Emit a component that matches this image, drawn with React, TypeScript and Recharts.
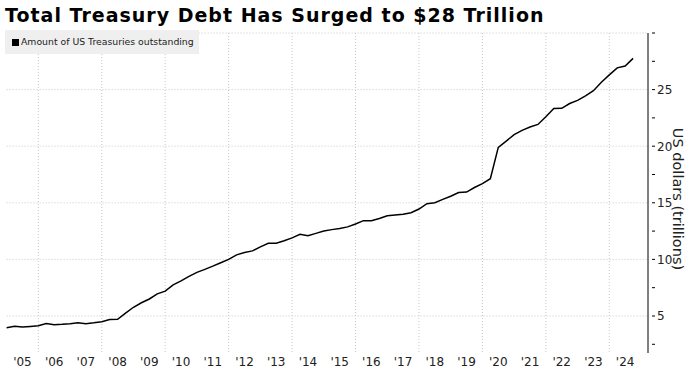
import React from 'react';
import { LineChart, Line, XAxis, YAxis, CartesianGrid } from 'recharts';

// Marketable US Treasuries outstanding, quarterly from 2005 Q1 (trillions of USD)
const startYear = 2005;
const debt = [
  3.97, 4.1, 4.03, 4.08, 4.14, 4.33, 4.23, 4.26, 4.32, 4.41,
  4.32, 4.4, 4.5, 4.68, 4.71, 5.25, 5.77, 6.17, 6.5, 6.95,
  7.2, 7.75, 8.1, 8.5, 8.85, 9.12, 9.4, 9.7, 10.0, 10.4,
  10.6, 10.75, 11.1, 11.42, 11.42, 11.65, 11.9, 12.22, 12.1, 12.3,
  12.5, 12.63, 12.72, 12.87, 13.13, 13.42, 13.42, 13.62, 13.85, 13.92,
  13.98, 14.12, 14.45, 14.92, 15.0, 15.3, 15.58, 15.9, 15.95, 16.35,
  16.7, 17.13, 19.9, 20.45, 21.02, 21.4, 21.7, 21.92, 22.6, 23.33,
  23.35, 23.77, 24.05, 24.45, 24.9, 25.65, 26.3, 26.92, 27.08, 27.76,
];

const yearTicks = [
  2005.5, 2006.5, 2007.5, 2008.5, 2009.5, 2010.5, 2011.5, 2012.5, 2013.5, 2014.5,
  2015.5, 2016.5, 2017.5, 2018.5, 2019.5, 2020.5, 2021.5, 2022.5, 2023.5, 2024.5,
];
const yearGrid = [2006, 2008, 2010, 2012, 2014, 2016, 2018, 2020, 2022, 2024];
const valueTicks = [2.5, 5, 7.5, 10, 12.5, 15, 17.5, 20, 22.5, 25, 27.5, 30];
const valueLabels = [5, 10, 15, 20, 25];
const valueGrid = [5, 10, 15, 20, 25, 30];

const data = debt.map((v, i) => ({ t: startYear + i / 4, v }));

const FONT = '"DejaVu Sans", Verdana, sans-serif';

const YTick = ({ x, y, payload }: any) => {
  const show = valueLabels.includes(payload.value);
  return (
    <g>
      <line x1={x - 4} y1={y} x2={x - 1} y2={y} stroke="#000" strokeWidth={1} />
      {show && (
        <text x={x + 1} y={y} dy={4.5} fontSize={12} fill="#222" fontFamily={FONT}>
          {payload.value}
        </text>
      )}
    </g>
  );
};

export default function App() {
  return (
    <div style={{ position: 'absolute', left: 0, top: 0, width: 687, height: 370, background: '#fff' }}>
      <div
        style={{
          position: 'absolute',
          left: 5,
          top: 4,
          fontFamily: FONT,
          fontWeight: 'bold',
          fontSize: 19,
          letterSpacing: 1,
          color: '#000',
          whiteSpace: 'nowrap',
        }}
      >
        Total Treasury Debt Has Surged to $28 Trillion
      </div>
      <LineChart
        width={687}
        height={370}
        data={data}
        margin={{ top: 33, right: 0, bottom: 0, left: 6.6 }}
        style={{ position: 'absolute', left: 0, top: 0 }}
      >
        <CartesianGrid
          stroke="#c8c8c8"
          strokeDasharray="1 2"
          verticalValues={yearGrid}
          horizontalValues={valueGrid}
        />
        <XAxis
          dataKey="t"
          type="number"
          domain={[2005, 2025.22]}
          ticks={yearTicks}
          tickFormatter={(v: number) => "'" + String(Math.floor(v)).slice(2)}
          axisLine={false}
          tickLine={false}
          tickSize={3}
          tickMargin={1}
          height={17}
          tick={{ fill: '#222', fontSize: 12, fontFamily: FONT }}
          interval={0}
        />
        <YAxis
          orientation="right"
          type="number"
          domain={[1.73, 30]}
          ticks={valueTicks}
          width={39}
          axisLine={{ stroke: '#000' }}
          tickLine={false}
          tick={<YTick />}
          interval={0}
          allowDataOverflow
        />
        <Line
          type="linear"
          dataKey="v"
          stroke="#000"
          strokeWidth={1.5}
          dot={false}
          isAnimationActive={false}
        />
      </LineChart>
      <div
        style={{
          position: 'absolute',
          left: 5,
          top: 30,
          width: 194,
          height: 24,
          background: '#efefef',
          fontFamily: FONT,
          fontSize: 9.3,
          lineHeight: '24px',
          color: '#222',
          whiteSpace: 'nowrap',
        }}
      >
        <div
          style={{
            position: 'absolute',
            left: 7,
            top: 9,
            width: 7,
            height: 7,
            background: '#000',
          }}
        />
        <span style={{ position: 'absolute', left: 16, top: 0 }}>Amount of US Treasuries outstanding</span>
      </div>
      <div
        style={{
          position: 'absolute',
          left: 678,
          top: 199,
          transform: 'translate(-50%, -50%) rotate(90deg)',
          fontFamily: FONT,
          fontSize: 14.5,
          color: '#222',
          whiteSpace: 'nowrap',
        }}
      >
        US dollars (trillions)
      </div>
    </div>
  );
}
